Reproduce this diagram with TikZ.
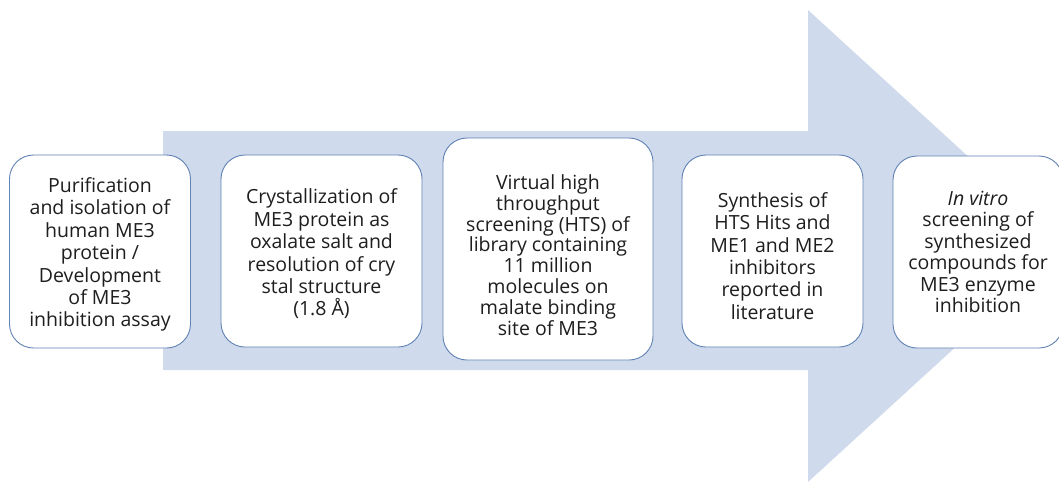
\documentclass[tikz,border=0pt]{standalone}
\usepackage{fontspec}
\setmainfont{Open Sans}
\definecolor{arrowfill}{RGB}{207,218,236}
\definecolor{boxline}{RGB}{96,130,180}
\definecolor{txt}{RGB}{30,30,30}
\begin{document}
\begin{tikzpicture}[x=1pt,y=-1pt,
  stepbox/.style={draw=boxline, line width=0.9pt, fill=white, rounded corners=24pt, inner sep=0pt},
  steptext/.style={align=center, text=txt, font=\fontsize{19.5}{22.4}\selectfont, inner sep=0pt}]
\useasboundingbox (0,0) rectangle (1059,485);
\clip (0,0) rectangle (1059,485);
\fill[arrowfill] (163,131) -- (808,131) -- (808,10) -- (1066,246) -- (808,482) -- (808,370) -- (163,370) -- cycle;
\node[stepbox, minimum width=181pt, minimum height=193pt] (b1) at (100,251.5) {};
\node[steptext] (t1) at ([yshift=-3pt]b1.center)
  {Purification\\and isolation of\\human ME3\\protein /\\Development\\of ME3\\inhibition assay};
\node[stepbox, minimum width=201pt, minimum height=192pt] (b2) at (321.5,251) {};
\node[steptext] (t2) at ([yshift=-3pt]b2.center)
  {Crystallization of\\ME3 protein as\\oxalate salt and\\resolution of cry\\stal structure\\(1.8 Å)};
\node[stepbox, minimum width=210pt, minimum height=222pt] (b3) at (548,249) {};
\node[steptext, font=\fontsize{19.5}{20.8}\selectfont] (t3) at ([yshift=-6pt]b3.center)
  {Virtual high\\throughput\\screening (HTS) of\\library containing\\11 million\\molecules on\\malate binding\\site of ME3};
\node[stepbox, minimum width=181pt, minimum height=192pt] (b4) at (772.5,251) {};
\node[steptext] (t4) at ([yshift=-5pt]b4.center)
  {Synthesis of\\HTS Hits and\\ME1 and ME2\\inhibitors\\reported in\\literature};
\node[stepbox, minimum width=170pt, minimum height=192pt] (b5) at (978,252) {};
\node[steptext, font=\fontsize{19.5}{21.4}\selectfont] (t5) at (b5.center)
  {\textit{In vitro}\\screening of\\synthesized\\compounds for\\ME3 enzyme\\inhibition};
\end{tikzpicture}
\end{document}
